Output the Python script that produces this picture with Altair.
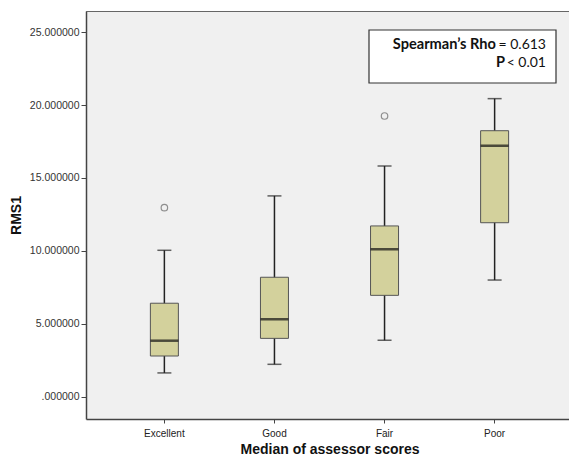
import altair as alt
import pandas as pd

categories = ["Excellent", "Good", "Fair", "Poor"]
whisker_low = [1.63, 2.22, 3.87, 8.00]
q1 = [2.79, 4.00, 6.95, 11.93]
median = [3.84, 5.31, 10.11, 17.21]
q3 = [6.41, 8.19, 11.71, 18.24]
whisker_high = [10.04, 13.77, 15.82, 20.44]
outlier_cat = ["Excellent", "Fair"]
outlier_val = [12.96, 19.25]
y_ticks = [0, 5, 10, 15, 20, 25]

stat_label = ["Spearman\u2019s Rho", "P"]
stat_value = ["= 0.613", "< 0.01"]

df = pd.DataFrame({
    "cat": categories, "lo": whisker_low, "q1": q1, "med": median,
    "q3": q3, "hi": whisker_high,
})
odf = pd.DataFrame({"cat": outlier_cat, "val": outlier_val})

W, H = 483, 408
xscale = alt.Scale(domain=categories, range=[0, 487], paddingInner=0, paddingOuter=0.212)
yscale = alt.Scale(domain=[-1.53, 26.45], nice=False, zero=False)

xenc = alt.X("cat:N", scale=xscale, sort=categories,
             axis=alt.Axis(title="Median of assessor scores", labelAngle=0,
                           labelFont="Liberation Sans", labelFontSize=10, labelColor="#222",
                           tickSize=4, tickColor="#444", labelPadding=5,
                           domainColor="#444", domainWidth=1.5,
                           titleFont="Liberation Sans", titleFontSize=14, titleFontWeight="bold",
                           titleColor="#111", titlePadding=4))
yaxis = alt.Axis(values=y_ticks, grid=False,
                 labelExpr="datum.value == 0 ? '.000000' : format(datum.value, '.6f')",
                 labelFont="Liberation Sans", labelFontSize=10.5, labelColor="#333",
                 tickSize=5, tickColor="#444", labelPadding=2,
                 domainColor="#444", domainWidth=1.5,
                 title="RMS1", titleFont="Liberation Sans", titleFontSize=14,
                 titleFontWeight="bold", titleColor="#111", titlePadding=6)

base = alt.Chart(df)

whiskers = base.mark_rule(color="#222", strokeWidth=1.5).encode(
    x=xenc, y=alt.Y("lo:Q", scale=yscale, axis=yaxis), y2="hi:Q")
cap_lo = base.mark_tick(color="#222", size=14, thickness=1.5).encode(x="cat:N", y="lo:Q")
cap_hi = base.mark_tick(color="#222", size=14, thickness=1.5).encode(x="cat:N", y="hi:Q")
boxes = base.mark_bar(size=28, fill="#d3d19c", stroke="#555", strokeWidth=1).encode(
    x="cat:N", y="q1:Q", y2="q3:Q")
meds = base.mark_tick(color="#111", size=28, thickness=2.5).encode(x="cat:N", y="med:Q")
outl = alt.Chart(odf).mark_point(shape="circle", filled=False, size=42, stroke="#666",
                                 strokeWidth=1.2).encode(x="cat:N", y="val:Q")

top_border = alt.Chart(pd.DataFrame({"a": [0]})).mark_rule(color="#666", strokeWidth=1).encode(
    x=alt.value(0), x2=alt.value(W), y=alt.value(0.5))

ann_box = alt.Chart(pd.DataFrame({"a": [0]})).mark_rect(
    fill="white", stroke="#333", strokeWidth=1.2).encode(
    x=alt.value(283), x2=alt.value(470), y=alt.value(19), y2=alt.value(72))

def txt(s, x, y, bold, align, size):
    return alt.Chart(pd.DataFrame({"t": [s]})).mark_text(
        font="Lato", fontSize=size, fontWeight="bold" if bold else "normal",
        align=align, baseline="middle", color="#111").encode(
        text="t:N", x=alt.value(x), y=alt.value(y))

t1 = txt(stat_label[0], 410, 34, True, "right", 14.6)
t2 = txt(stat_value[0], 460, 34, False, "right", 14)
t3 = txt(stat_label[1], 419, 51.5, True, "right", 14.6)
t4 = txt(stat_value[1], 460, 51.5, False, "right", 14)

chart = alt.layer(whiskers, cap_lo, cap_hi, boxes, meds, outl, top_border,
                  ann_box, t1, t2, t3, t4).properties(
    width=W, height=H,
    padding={"left": 86, "top": 11, "right": 0, "bottom": 44},
    autosize="none",
    background="white",
).configure_view(strokeWidth=0, fill="#f0f0f0")

chart.save("out.html", embed_options={"renderer": "svg", "actions": False})
